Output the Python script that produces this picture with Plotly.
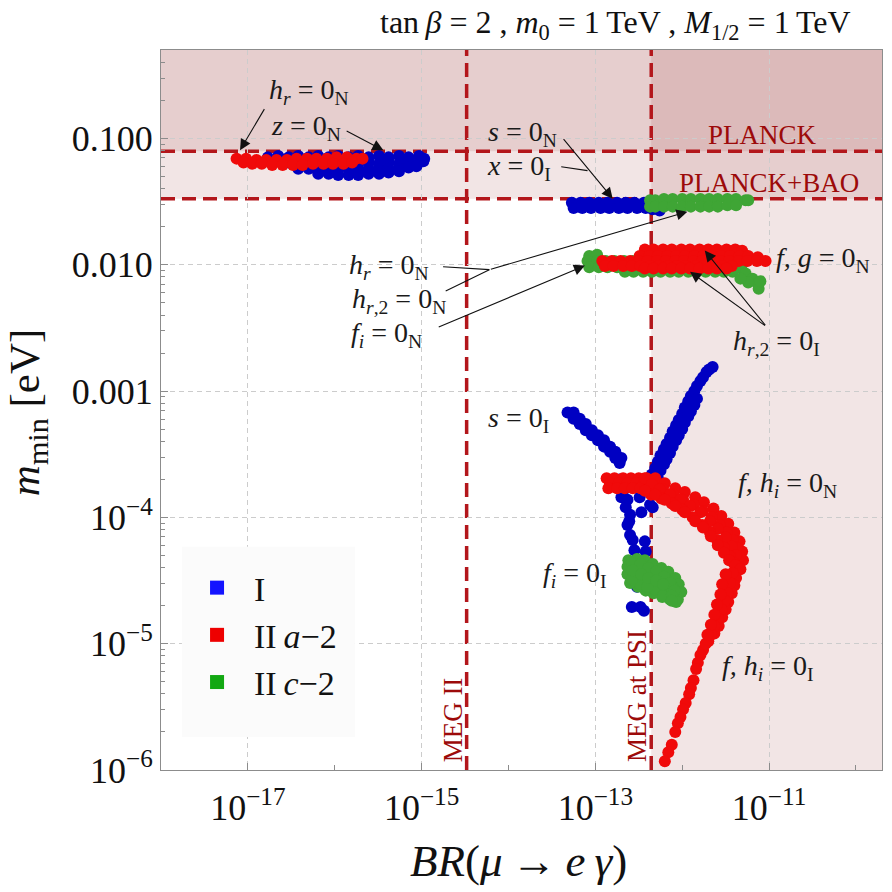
import numpy as np
import plotly.graph_objects as go

# ---------------- data ----------------
# each point: (log10 BR(mu -> e gamma), log10 m_min/eV)

# type I
I_z0N = [
    (-16.77, -1.15), (-16.65, -1.14), (-16.53, -1.15), (-16.42, -1.14), (-16.30, -1.15), (-16.19, -1.14),
    (-16.07, -1.15), (-15.96, -1.14), (-15.84, -1.15), (-15.73, -1.14), (-15.61, -1.15), (-15.49, -1.14),
    (-15.38, -1.15), (-15.26, -1.14), (-15.15, -1.15), (-15.03, -1.14), (-14.97, -1.16),
    (-16.53, -1.19), (-16.42, -1.20), (-16.30, -1.19), (-16.19, -1.20), (-16.07, -1.19), (-15.96, -1.20),
    (-15.84, -1.19), (-15.73, -1.20), (-15.61, -1.19), (-15.49, -1.20), (-15.38, -1.19), (-15.26, -1.20),
    (-15.15, -1.19), (-15.03, -1.19), (-14.98, -1.18),
    (-16.42, -1.24), (-16.30, -1.24), (-16.19, -1.25), (-16.07, -1.24), (-15.96, -1.25), (-15.84, -1.24),
    (-15.73, -1.25), (-15.61, -1.24), (-15.49, -1.25), (-15.38, -1.24), (-15.26, -1.24), (-15.15, -1.23),
    (-15.06, -1.22),
    (-16.19, -1.28), (-16.07, -1.28), (-15.96, -1.29), (-15.84, -1.29), (-15.73, -1.29), (-15.61, -1.28),
    (-15.49, -1.28), (-15.38, -1.27), (-15.26, -1.26),
]
I_s0N = [
    (-13.27, -1.51), (-13.17, -1.51), (-13.07, -1.51), (-12.96, -1.51), (-12.86, -1.51), (-12.75, -1.51),
    (-12.65, -1.51), (-12.55, -1.51), (-12.44, -1.51), (-12.38, -1.51),
    (-13.25, -1.55), (-13.15, -1.55), (-13.05, -1.55), (-12.94, -1.55), (-12.84, -1.55), (-12.73, -1.55),
    (-12.63, -1.55), (-12.52, -1.55), (-12.42, -1.55), (-12.34, -1.56), (-12.26, -1.57),
]
I_s0I = [
    # left arm
    (-13.32, -3.17), (-13.25, -3.22), (-13.18, -3.26), (-13.11, -3.31), (-13.04, -3.35), (-12.97, -3.39),
    (-12.90, -3.44), (-12.83, -3.48), (-12.77, -3.53), (-12.72, -3.57),
    (-13.25, -3.17), (-13.18, -3.22), (-13.11, -3.26), (-13.04, -3.31), (-12.97, -3.35), (-12.90, -3.39),
    (-12.83, -3.44), (-12.77, -3.48), (-12.70, -3.53),
    # scattered lower part
    (-12.72, -3.70), (-12.67, -3.78), (-12.70, -3.84), (-12.63, -3.86), (-12.65, -3.92), (-12.60, -3.98),
    (-12.63, -4.06), (-12.60, -4.14), (-12.55, -4.26), (-12.49, -3.84), (-12.47, -3.96), (-12.43, -4.19),
    (-12.42, -4.27), (-12.37, -3.90), (-12.35, -3.82), (-12.34, -3.92), (-12.52, -4.55), (-12.58, -4.71),
    (-12.48, -4.71), (-12.44, -4.74), (-12.61, -4.03), (-12.57, -4.18),
    # right arm
    (-12.35, -3.66), (-12.31, -3.61), (-12.28, -3.56), (-12.25, -3.51), (-12.21, -3.46), (-12.18, -3.42),
    (-12.14, -3.37), (-12.11, -3.32), (-12.07, -3.27), (-12.04, -3.23), (-12.00, -3.18), (-11.97, -3.13),
    (-11.93, -3.08), (-11.90, -3.04), (-11.86, -3.00), (-11.83, -2.96), (-11.79, -2.92), (-11.76, -2.89),
    (-11.72, -2.85), (-11.69, -2.83), (-11.65, -2.81),
    (-12.28, -3.69), (-12.25, -3.63), (-12.21, -3.58), (-12.18, -3.54), (-12.14, -3.49), (-12.11, -3.44),
    (-12.07, -3.39), (-12.04, -3.35), (-12.00, -3.30), (-11.97, -3.25), (-11.93, -3.20), (-11.90, -3.16),
    (-11.86, -3.11), (-11.83, -3.06),
]

# type II a-2
IIa_hr0N = [
    (-17.13, -1.16), (-17.02, -1.16), (-16.90, -1.17), (-16.79, -1.17), (-16.67, -1.17), (-16.55, -1.17),
    (-16.44, -1.16), (-16.32, -1.16), (-16.21, -1.16), (-16.09, -1.16), (-15.98, -1.15), (-15.86, -1.15),
    (-15.75, -1.16), (-15.68, -1.16),
    (-17.05, -1.19), (-16.95, -1.20), (-16.84, -1.20), (-16.72, -1.21), (-16.60, -1.21), (-16.48, -1.21),
    (-16.37, -1.21), (-16.25, -1.20), (-16.13, -1.20), (-16.02, -1.20), (-15.90, -1.20), (-15.80, -1.19),
]
IIa_fg0N = [
    (-12.43, -1.88), (-12.33, -1.88), (-12.22, -1.88), (-12.12, -1.88), (-12.01, -1.88), (-11.91, -1.88),
    (-11.80, -1.88), (-11.70, -1.88), (-11.60, -1.88), (-11.49, -1.88), (-11.39, -1.88), (-11.31, -1.89),
    (-12.49, -1.93), (-12.38, -1.93), (-12.28, -1.93), (-12.17, -1.93), (-12.07, -1.93), (-11.97, -1.93),
    (-11.86, -1.93), (-11.76, -1.93), (-11.65, -1.93), (-11.55, -1.93), (-11.45, -1.93), (-11.34, -1.93),
    (-11.24, -1.93), (-11.13, -1.94),
    (-12.92, -1.97), (-12.81, -1.97), (-12.71, -1.97), (-12.60, -1.97), (-12.50, -1.97), (-12.40, -1.97),
    (-12.29, -1.97), (-12.19, -1.97), (-12.08, -1.97), (-11.98, -1.97), (-11.87, -1.97), (-11.77, -1.97),
    (-11.67, -1.97), (-11.56, -1.97), (-11.46, -1.97), (-11.35, -1.97), (-11.25, -1.97), (-11.14, -1.97),
    (-11.04, -1.97),
    (-12.89, -2.01), (-12.79, -2.01), (-12.68, -2.01), (-12.58, -2.01), (-12.48, -2.01), (-12.37, -2.01),
    (-12.27, -2.01), (-12.16, -2.01), (-12.06, -2.01), (-11.96, -2.01), (-11.85, -2.01), (-11.75, -2.01),
    (-11.64, -2.01), (-11.54, -2.01), (-11.43, -2.01),
    (-12.43, -2.03), (-12.33, -2.03), (-12.22, -2.03), (-12.12, -2.03), (-12.01, -2.03), (-11.91, -2.03),
    (-11.80, -2.03), (-11.70, -2.03), (-11.60, -2.03), (-11.49, -2.03),
]
IIa_fhi = [
    # flat left part
    (-12.87, -3.69), (-12.78, -3.69), (-12.68, -3.69), (-12.59, -3.69), (-12.50, -3.69), (-12.41, -3.69),
    (-12.31, -3.69),
    (-12.83, -3.73), (-12.73, -3.73), (-12.63, -3.73), (-12.53, -3.73), (-12.44, -3.73), (-12.35, -3.74),
    (-12.85, -3.77), (-12.75, -3.77), (-12.66, -3.77), (-12.57, -3.77), (-12.48, -3.77), (-12.38, -3.77),
    (-12.29, -3.77),
    # curved band
    (-12.43, -3.69), (-12.31, -3.71), (-12.20, -3.73), (-12.08, -3.77), (-11.97, -3.80), (-11.85, -3.84),
    (-11.75, -3.88), (-11.64, -3.93), (-11.55, -3.99), (-11.47, -4.05), (-11.40, -4.12), (-11.34, -4.19),
    (-11.31, -4.27), (-11.30, -4.34),
    (-12.35, -3.74), (-12.22, -3.78), (-12.10, -3.82), (-11.99, -3.86), (-11.87, -3.90), (-11.76, -3.95),
    (-11.66, -4.00), (-11.57, -4.06), (-11.49, -4.12), (-11.42, -4.18), (-11.37, -4.24), (-11.34, -4.31),
    (-12.26, -3.78), (-12.14, -3.82), (-12.02, -3.86), (-11.91, -3.91), (-11.79, -3.96), (-11.68, -4.03),
    (-11.59, -4.09), (-11.50, -4.16), (-11.43, -4.23), (-11.38, -4.30),
    (-12.36, -3.82), (-12.24, -3.85), (-12.12, -3.89), (-12.00, -3.94), (-11.88, -4.00), (-11.77, -4.06),
    (-11.68, -4.12), (-11.60, -4.18), (-11.52, -4.24), (-11.45, -4.31), (-11.41, -4.36),
    (-12.43, -3.79), (-12.31, -3.82), (-12.20, -3.86), (-12.08, -3.91), (-11.97, -3.96), (-11.85, -4.03),
    (-11.76, -4.08), (-11.67, -4.15), (-11.59, -4.22), (-11.52, -4.28), (-11.46, -4.34), (-11.39, -4.38),
    # descending part
    (-11.33, -4.41), (-11.38, -4.48), (-11.40, -4.54), (-11.43, -4.60), (-11.47, -4.67), (-11.50, -4.73),
    (-11.54, -4.79), (-11.58, -4.86), (-11.63, -4.92), (-11.70, -4.98), (-11.76, -5.05), (-11.79, -5.09),
    (-11.82, -5.15),
    (-11.42, -4.44), (-11.45, -4.52), (-11.48, -4.60), (-11.51, -4.66), (-11.55, -4.73), (-11.59, -4.80),
    (-11.63, -4.86), (-11.67, -4.93), (-11.73, -5.00),
    (-11.50, -4.45), (-11.54, -4.53), (-11.56, -4.61), (-11.60, -4.69), (-11.63, -4.77), (-11.67, -4.85),
    (-11.71, -4.93),
    # sparse tail
    (-11.84, -5.20), (-11.87, -5.29), (-11.90, -5.35), (-11.92, -5.40), (-11.96, -5.47), (-11.99, -5.52),
    (-12.02, -5.58), (-12.05, -5.63), (-12.08, -5.70), (-12.12, -5.80), (-12.16, -5.86), (-12.20, -5.93),
]

# type II c-2
IIc_x0I = [
    (-12.37, -1.49), (-12.31, -1.49), (-12.21, -1.48), (-12.11, -1.48), (-12.00, -1.48), (-11.90, -1.48),
    (-11.79, -1.48), (-11.69, -1.48), (-11.59, -1.48), (-11.48, -1.48), (-11.38, -1.48), (-11.27, -1.49),
    (-11.24, -1.49),
    (-12.37, -1.54), (-12.31, -1.54), (-12.21, -1.54), (-12.11, -1.54), (-12.00, -1.54), (-11.90, -1.54),
    (-11.79, -1.54), (-11.69, -1.54), (-11.59, -1.54), (-11.48, -1.53), (-11.38, -1.53),
]
IIc_fi0N = [
    (-13.07, -1.93), (-12.98, -1.92),
    (-13.09, -1.97), (-12.98, -1.97), (-12.88, -1.97), (-12.78, -1.97), (-12.67, -1.97), (-12.57, -1.97),
    (-12.46, -1.97), (-12.36, -1.97), (-12.26, -1.97), (-12.15, -1.97), (-12.05, -1.97), (-11.94, -1.97),
    (-11.84, -1.97),
    (-13.07, -2.02), (-12.96, -2.02), (-12.86, -2.02), (-12.75, -2.02), (-12.65, -2.02), (-12.55, -2.02),
    (-12.44, -2.02), (-12.34, -2.02), (-12.23, -2.02), (-12.13, -2.02), (-12.03, -2.02), (-11.92, -2.02),
    (-11.82, -2.02), (-11.72, -2.02), (-11.61, -2.02), (-11.51, -2.02), (-11.40, -2.02), (-11.32, -2.03),
    (-12.66, -2.055), (-12.56, -2.055), (-12.45, -2.055), (-12.35, -2.055), (-12.25, -2.055), (-12.14, -2.055),
    (-12.04, -2.055), (-11.93, -2.055), (-11.83, -2.055), (-11.73, -2.055), (-11.62, -2.055), (-11.52, -2.055),
    (-11.42, -2.055),
    (-11.27, -2.07), (-11.19, -2.11), (-11.13, -2.15), (-11.12, -2.19), (-11.24, -2.14), (-11.33, -2.11),
    (-11.10, -2.13),
]
IIc_fi0I = [
    (-12.62, -4.34), (-12.52, -4.33), (-12.43, -4.34), (-12.34, -4.37), (-12.24, -4.40), (-12.16, -4.43),
    (-12.08, -4.48), (-12.04, -4.53), (-12.01, -4.59), (-12.05, -4.65), (-12.14, -4.65), (-12.23, -4.63),
    (-12.33, -4.60), (-12.42, -4.58), (-12.51, -4.55), (-12.60, -4.52), (-12.63, -4.45), (-12.63, -4.39),
    (-12.53, -4.39), (-12.44, -4.41), (-12.35, -4.43), (-12.26, -4.46), (-12.18, -4.50), (-12.11, -4.55),
    (-12.07, -4.61), (-12.53, -4.46), (-12.44, -4.49), (-12.35, -4.52), (-12.26, -4.54), (-12.18, -4.58),
    (-12.48, -4.53), (-12.31, -4.57),
    (-12.58, -4.36), (-12.48, -4.37), (-12.39, -4.40), (-12.30, -4.43), (-12.21, -4.47), (-12.14, -4.52),
    (-12.09, -4.58), (-12.58, -4.49), (-12.40, -4.55), (-12.22, -4.62), (-12.12, -4.62), (-12.57, -4.42),
    (-12.47, -4.45), (-12.39, -4.48), (-12.30, -4.50), (-12.22, -4.53), (-12.07, -4.67), (-12.12, -4.66),
]

series_names = ["I", "II\u2009<i>a</i>\u22122", "II\u2009<i>c</i>\u22122"]
series_points = [I_z0N + I_s0N + I_s0I, IIa_hr0N + IIa_fg0N + IIa_fhi, IIc_x0I + IIc_fi0N + IIc_fi0I]

# experimental / cosmological limits
planck_limit = 0.079
planck_bao_limit = 0.0333
meg2_limit = 3.3e-15
meg_psi_limit = 4.4e-13

x_range_log = [-18.0, -9.7]
y_range_log = [-6.0, -0.3]
x_tick_vals = [1e-17, 1e-15, 1e-13, 1e-11]
x_tick_text = ["10<sup>\u221217</sup>", "10<sup>\u221215</sup>", "10<sup>\u221213</sup>", "10<sup>\u221211</sup>"]
y_tick_vals = [1e-6, 1e-5, 1e-4, 1e-3, 1e-2, 1e-1]
y_tick_text = ["10<sup>\u22126</sup>", "10<sup>\u22125</sup>", "10<sup>\u22124</sup>", "0.001", "0.010", "0.100"]

# ---------------- styles ----------------
point_colors = ["#0000c2", "#f00a0a", "#3fa535"]
legend_colors = ["#1414ff", "#ee0000", "#12a812"]
draw_order = [0, 2, 1]   # blue, green, red on top
SERIF = "Liberation Serif"
LIMIT_RED = "#b3161b"
TEXT_RED = "#9c0a0a"

fig = go.Figure()

for i in draw_order:
    pts = np.array(series_points[i])
    fig.add_trace(go.Scatter(
        x=10 ** pts[:, 0], y=10 ** pts[:, 1], mode="markers",
        marker=dict(color=point_colors[i], size=12, line=dict(width=0)),
        showlegend=False, hoverinfo="skip"))

for i in range(3):
    fig.add_trace(go.Scatter(
        x=[None], y=[None], mode="markers", name="\u00a0\u00a0" + series_names[i],
        legendgroup=str(i),
        marker=dict(color=legend_colors[i], size=14, symbol="square", line=dict(width=0))))

# shaded exclusion regions
shade = "rgba(150,40,40,0.12)"
y_top = 10 ** y_range_log[1]
x_right = 10 ** x_range_log[1]
fig.add_shape(type="rect", xref="x domain", x0=0, x1=1, yref="y", y0=planck_bao_limit, y1=y_top,
              fillcolor=shade, line_width=0, layer="below")
fig.add_shape(type="rect", xref="x domain", x0=0, x1=1, yref="y", y0=planck_limit, y1=y_top,
              fillcolor=shade, line_width=0, layer="below")
fig.add_shape(type="rect", xref="x", x0=meg_psi_limit, x1=x_right, yref="y domain", y0=0, y1=1,
              fillcolor=shade, line_width=0, layer="below")

dash_line = dict(color=LIMIT_RED, width=3.5, dash="14px,7px")
for yv in (planck_limit, planck_bao_limit):
    fig.add_shape(type="line", xref="x domain", x0=0, x1=1, yref="y", y0=yv, y1=yv, line=dash_line, layer="below")
for xv in (meg2_limit, meg_psi_limit):
    fig.add_shape(type="line", xref="x", x0=xv, x1=xv, yref="y domain", y0=0, y1=1, line=dash_line, layer="below")

# legend background box (covers grid lines like the reference)
fig.add_shape(type="rect", xref="paper", yref="paper", x0=0.029, x1=0.269, y0=0.046, y1=0.310,
              fillcolor="#fbfbfb", line_width=0, layer="above")

# text labels (positions in log10 axis units)
lab_font = dict(family=SERIF, size=28, color="#1a1a1a")
labels = [
    ("<i>h</i><sub><i>r</i></sub> = 0<sub>N</sub>", -16.30, -0.63),
    ("<i>z</i> = 0<sub>N</sub>", -16.33, -0.91),
    ("<i>s</i> = 0<sub>N</sub>", -13.84, -0.96),
    ("<i>x</i> = 0<sub>I</sub>", -13.88, -1.23),
    ("<i>h</i><sub><i>r</i></sub> = 0<sub>N</sub>", -15.37, -2.015),
    ("<i>h</i><sub><i>r</i>,2</sub> = 0<sub>N</sub>", -15.26, -2.284),
    ("<i>f</i><sub><i>i</i></sub> = 0<sub>N</sub>", -15.40, -2.553),
    ("<i>f, g</i> = 0<sub>N</sub>", -10.38, -1.96),
    ("<i>h</i><sub><i>r</i>,2</sub> = 0<sub>I</sub>", -10.92, -2.617),
    ("<i>s</i> = 0<sub>I</sub>", -13.88, -3.226),
    ("<i>f, h</i><sub><i>i</i></sub> = 0<sub>N</sub>", -10.79, -3.741),
    ("<i>f</i><sub><i>i</i></sub> = 0<sub>I</sub>", -13.23, -4.454),
    ("<i>f, h</i><sub><i>i</i></sub> = 0<sub>I</sub>", -11.01, -5.19),
]
for t, lx, ly in labels:
    fig.add_annotation(x=lx, y=ly, xref="x", yref="y", text=t, showarrow=False, font=lab_font)

# arrows / connector lines: (head_x, head_y, tail_x, tail_y, with_head)
arrows = [
    (-17.09, -1.094, -16.80, -0.756, True),
    (-15.44, -1.094, -15.88, -0.935, True),
    (-12.80, -1.477, -13.38, -0.994, True),
    (-13.09, -1.255, -13.41, -1.223, False),
    (-14.22, -2.039, -14.77, -2.015, False),
    (-14.22, -2.039, -14.74, -2.213, False),
    (-11.94, -1.580, -14.22, -2.039, True),
    (-13.12, -2.007, -14.82, -2.498, True),
    (-11.74, -1.888, -11.03, -2.490, True),
    (-11.91, -2.056, -11.03, -2.490, True),
]
for hx, hy, tx, ty, head in arrows:
    fig.add_annotation(x=hx, y=hy, ax=tx, ay=ty, xref="x", yref="y", axref="x", ayref="y",
                       text="", showarrow=True, arrowhead=2 if head else 0, arrowsize=2.0,
                       arrowwidth=1.1, arrowcolor="#111", standoff=0, startstandoff=0)

lim_font = dict(family=SERIF, size=27, color=TEXT_RED)
fig.add_annotation(x=-11.08, y=-0.97, text="PLANCK", showarrow=False, font=lim_font)
fig.add_annotation(x=-11.00, y=-1.35, text="PLANCK+BAO", showarrow=False, font=lim_font)
fig.add_annotation(x=-14.64, y=-6.0, yanchor="bottom", yshift=6, text="MEG II", textangle=-90,
                   showarrow=False, font=lim_font)
fig.add_annotation(x=-12.52, y=-6.0, yanchor="bottom", yshift=6, text="MEG at PSI", textangle=-90,
                   showarrow=False, font=lim_font)

# titles
fig.add_annotation(xref="paper", yref="paper", x=0.96, y=1.036, xanchor="right", yanchor="middle",
                   text="tan\u2009<i>\u03b2</i> = 2 , <i>m</i><sub>0</sub> = 1\u2009TeV , "
                        "<i>M</i><sub>1/2</sub> = 1\u2009TeV",
                   showarrow=False, font=dict(family=SERIF, size=32, color="#111"))
fig.add_annotation(xref="paper", yref="paper", x=0.4965, y=-0.126, xanchor="center", yanchor="middle",
                   text="<i>BR</i>(<i>\u03bc</i>\u2009\u2192\u2009<i>e\u2009\u03b3</i>)", showarrow=False,
                   font=dict(family=SERIF, size=45, color="#111"))
fig.add_annotation(xref="paper", yref="paper", x=-0.1845, y=0.497, xanchor="center", yanchor="middle",
                   text="<i>m</i><sub>min</sub> [eV]", textangle=-90, showarrow=False,
                   font=dict(family=SERIF, size=43, color="#111"))

y_minor = [k * 10.0 ** e for e in range(-6, 0) for k in range(2, 10)]
axis_common = dict(type="log", showline=True, linecolor="#8c8c8c", linewidth=1, mirror=True,
                   ticks="inside", ticklen=7, tickcolor="#8c8c8c", zeroline=False,
                   showgrid=True, gridcolor="#cccccc", gridwidth=1, griddash="5px,4px",
                   tickfont=dict(family=SERIF, size=36, color="#111"))
fig.update_xaxes(range=x_range_log, tickmode="array", tickvals=x_tick_vals, ticktext=x_tick_text,
                 ticklabelstandoff=6,
                 minor=dict(tickmode="array", tickvals=[1e-18, 1e-16, 1e-14, 1e-12, 1e-10],
                            ticks="inside", ticklen=5, tickcolor="#8c8c8c", showgrid=False),
                 **axis_common)
fig.update_yaxes(range=y_range_log, tickmode="array", tickvals=y_tick_vals, ticktext=y_tick_text,
                 minor=dict(tickmode="array", tickvals=y_minor, ticks="inside", ticklen=4,
                            tickcolor="#8c8c8c", showgrid=False),
                 **axis_common)

fig.update_layout(
    width=892, height=892, autosize=False,
    margin=dict(l=161, r=10, t=50, b=122),
    paper_bgcolor="white", plot_bgcolor="white",
    font=dict(family=SERIF, color="#111"),
    legend=dict(x=0.05, y=0.293, xanchor="left", yanchor="top", bgcolor="rgba(0,0,0,0)",
                borderwidth=0, font=dict(family=SERIF, size=34, color="#111"),
                tracegroupgap=28, itemsizing="trace", traceorder="normal"),
)

fig.write_html("out.html")
